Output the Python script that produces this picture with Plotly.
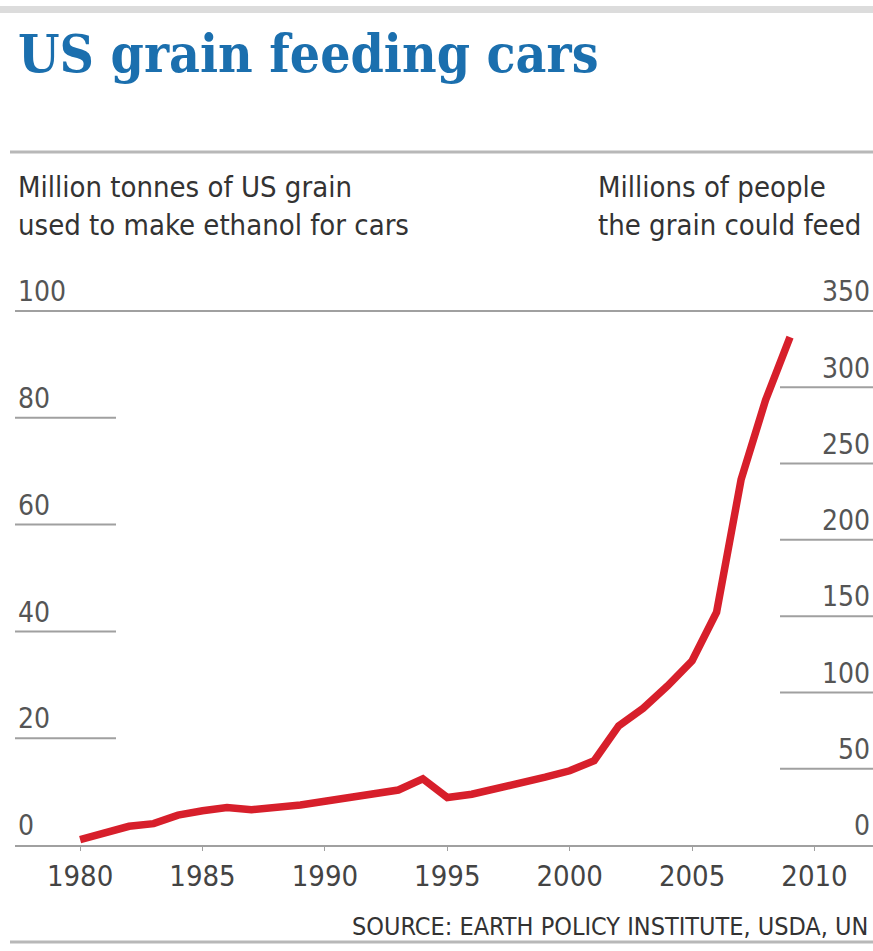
import plotly.graph_objects as go

# US grain used for fuel ethanol, million tonnes
years = list(range(1980, 2010))
grain_mt = [1.0, 2.4, 3.5, 4.0, 5.6, 6.4, 7.0, 6.6, 7.0, 7.5,
            8.2, 9.0, 9.5, 10.3, 12.4, 8.9, 9.5, 10.5, 11.8, 12.7,
            13.9, 15.8, 22.3, 25.6, 29.8, 34.5, 43.6, 68.4, 83.3, 95.1]

left_ticks = [0, 20, 40, 60, 80, 100]
right_ticks = [0, 50, 100, 150, 200, 250, 300, 350]
x_ticks = [1980, 1985, 1990, 1995, 2000, 2005, 2010]

W, H = 873, 951
ML, MR, MT, MB = 15, 0, 262, 106
PW, PH = W - ML - MR, H - MT - MB
TOP_PX = 311  # pixel row of the 100 / 350 rule
Y_MAX = 100 * PH / (H - MB - TOP_PX)
Y2_MAX = 350 * PH / (H - MB - TOP_PX)


def xp(px):
    return (px - ML) / PW


def yp(py):
    return (H - MB - py) / PH


label_font = "Liberation Sans Narrow, DejaVu Sans Condensed, Arial Narrow, sans-serif"
grey_rule = "#b8b8b8"

fig = go.Figure()
fig.add_trace(go.Scatter(
    x=years, y=grain_mt, mode="lines",
    line=dict(color="#d71f2b", width=7.5),
    hoverinfo="x+y", showlegend=False,
))

shapes = []
# short rules under the left-hand tick labels
for v in left_ticks[1:-1]:
    shapes.append(dict(type="line", xref="paper", yref="y", x0=0, x1=xp(116), y0=v, y1=v,
                       line=dict(color="#a0a0a0", width=2)))
# short rules under the right-hand tick labels
for v in right_ticks[1:-1]:
    shapes.append(dict(type="line", xref="paper", yref="y2", x0=xp(780), x1=1, y0=v, y1=v,
                       line=dict(color="#a0a0a0", width=2)))
# full-width top rule of the plot
shapes.append(dict(type="line", xref="paper", yref="y", x0=0, x1=1, y0=100, y1=100,
                   line=dict(color="#a0a0a0", width=2)))
# header strip, rule below title, bottom rule
shapes.append(dict(type="rect", xref="paper", yref="paper", x0=xp(0), x1=xp(W),
                   y0=yp(13), y1=yp(6), fillcolor="#dcdcdc", line=dict(width=0), layer="below"))
shapes.append(dict(type="line", xref="paper", yref="paper", x0=xp(10), x1=xp(W),
                   y0=yp(152), y1=yp(152), line=dict(color=grey_rule, width=3)))
shapes.append(dict(type="line", xref="paper", yref="paper", x0=xp(10), x1=xp(W),
                   y0=yp(942), y1=yp(942), line=dict(color=grey_rule, width=3)))

annotations = [
    dict(text="<b>US grain feeding cars</b>", x=xp(16), y=yp(20), xref="paper", yref="paper",
         xanchor="left", yanchor="top", showarrow=False,
         font=dict(family="DejaVu Serif Condensed, DejaVu Serif, serif", size=53, color="#1b6fae")),
    dict(text="Million tonnes of US grain<br>used to make ethanol for cars", x=xp(16), y=yp(168),
         xref="paper", yref="paper", xanchor="left", yanchor="top", align="left", showarrow=False,
         font=dict(family=label_font, size=29, color="#333333")),
    dict(text="Millions of people<br>the grain could feed", x=xp(596), y=yp(168),
         xref="paper", yref="paper", xanchor="left", yanchor="top", align="left", showarrow=False,
         font=dict(family=label_font, size=29, color="#333333")),
    dict(text="SOURCE: EARTH POLICY INSTITUTE, USDA, UN", x=xp(870), y=yp(926),
         xref="paper", yref="paper", xanchor="right", yanchor="middle", showarrow=False,
         font=dict(family=label_font, size=25, color="#333333")),
]

fig.update_layout(
    width=W, height=H,
    margin=dict(l=ML, r=MR, t=MT, b=MB, pad=0),
    paper_bgcolor="white", plot_bgcolor="white",
    shapes=shapes, annotations=annotations,
    xaxis=dict(
        range=[1977.34, 2012.39], tickvals=x_ticks, ticktext=[str(t) for t in x_ticks],
        showgrid=False, zeroline=False, showline=True, linecolor="#a0a0a0", linewidth=2,
        ticks="outside", ticklen=4, tickcolor="#a0a0a0",
        tickfont=dict(family=label_font, size=29, color="#444444"),
    ),
    yaxis=dict(
        range=[0, Y_MAX], tickvals=left_ticks, ticktext=[str(t) for t in left_ticks],
        showgrid=False, zeroline=False, showline=False, ticks="",
        ticklabelposition="inside top",
        tickfont=dict(family=label_font, size=28, color="#555555"),
    ),
    yaxis2=dict(
        range=[0, Y2_MAX], tickvals=right_ticks, ticktext=[str(t) for t in right_ticks],
        overlaying="y", side="right", anchor="x",
        showgrid=False, zeroline=False, showline=False, ticks="",
        ticklabelposition="inside top",
        tickfont=dict(family=label_font, size=28, color="#555555"),
    ),
)

fig.write_html("out.html")
